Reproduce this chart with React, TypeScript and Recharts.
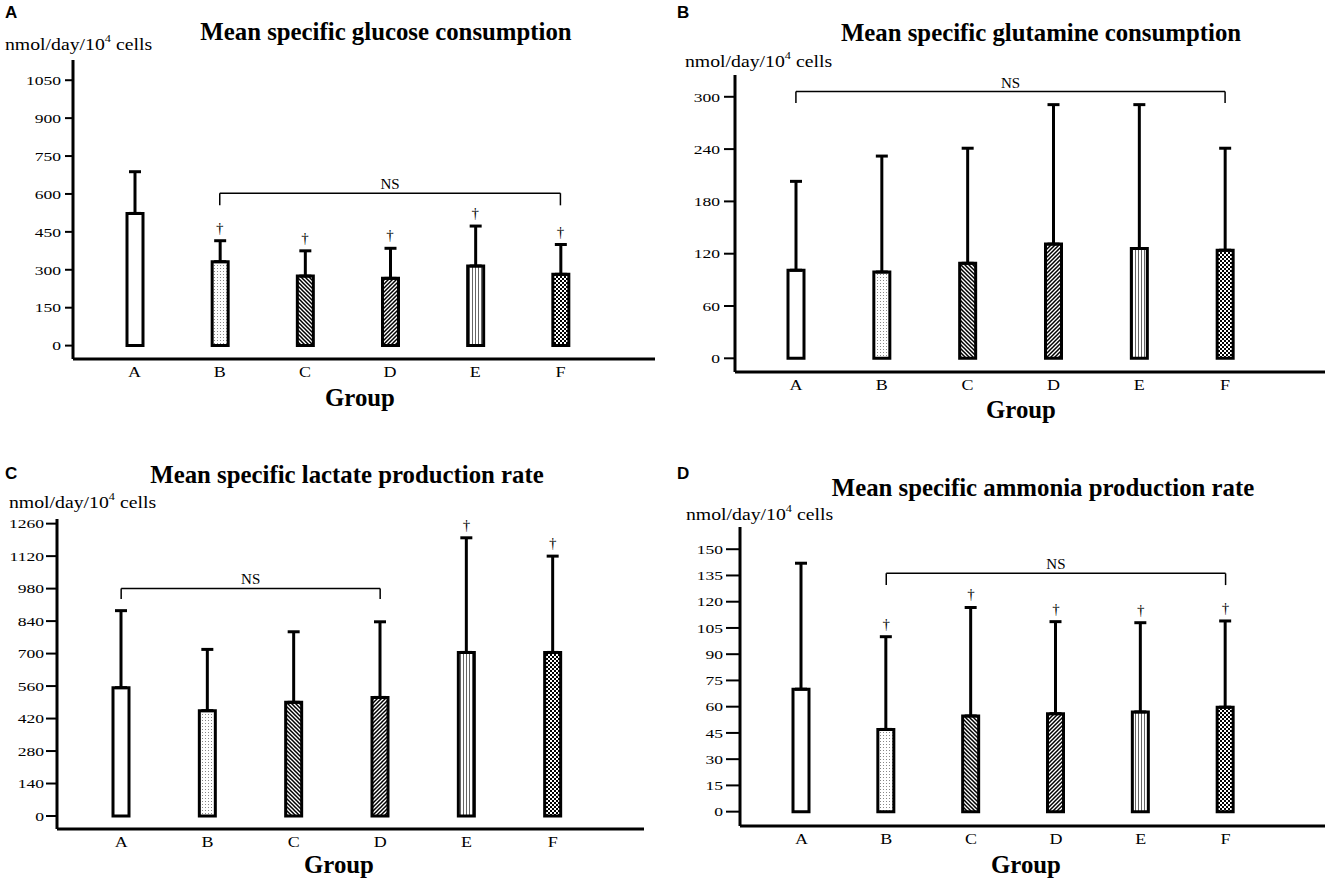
import React from 'react';
import { ComposedChart, Bar, Cell, XAxis, YAxis, ErrorBar, Line, ReferenceLine } from 'recharts';

const SERIF = "'Liberation Serif', 'Times New Roman', serif";
const SANS = "'Liberation Sans', Arial, sans-serif";

// ---- data ----
const groups = ['A', 'B', 'C', 'D', 'E', 'F'];
const fills = ['white', 'dots', 'back', 'fwd', 'vert', 'check'];

const glucoseMean = [523, 332, 275, 266, 315, 282];
const glucoseSd = [165, 83, 100, 119, 158, 118];
const glucoseMark = ['', '†', '†', '†', '†', '†'];
const glucoseTicks = [0, 150, 300, 450, 600, 750, 900, 1050];

const glutamineMean = [101, 99, 109, 131, 126, 124];
const glutamineSd = [102, 133, 132, 160, 165, 117];
const glutamineMark = ['', '', '', '', '', ''];
const glutamineTicks = [0, 60, 120, 180, 240, 300];

const lactateMean = [553, 454, 490, 511, 705, 705];
const lactateSd = [332, 264, 304, 326, 494, 415];
const lactateMark = ['', '', '', '', '†', '†'];
const lactateTicks = [0, 140, 280, 420, 560, 700, 840, 980, 1120, 1260];

const ammoniaMean = [70, 47, 54.7, 56, 57, 59.7];
const ammoniaSd = [72, 53, 62, 52.6, 51, 49.3];
const ammoniaMark = ['', '†', '†', '†', '†', '†'];
const ammoniaTicks = [0, 15, 30, 45, 60, 75, 90, 105, 120, 135, 150];

const buildRows = (mean: number[], sd: number[], mark: string[]) =>
  groups.map((g, i) => ({
    group: g,
    mean: mean[i],
    err: [0, sd[i]],
    top: mean[i] + sd[i],
    mark: mark[i],
  }));

type Panel = {
  id: string;
  letter: string;
  title: string;
  rows: any[];
  ticks: number[];
  domain: [number, number];
  left: number;
  top: number;
  width: number;
  height: number;
  mt: number;
  mr: number;
  yw: number;
  xh: number;
  padL: number;
  padR: number;
  ts: number;
  tm: number;
  bracket: { from: string; to: string; y: number; drop: number };
  letterPos: [number, number];
  titlePos: [number, number];
  unitPos: [number, number];
  groupPos: [number, number];
};

const panels: Panel[] = [
  {
    id: 'pa', letter: 'A', title: 'Mean specific glucose consumption',
    rows: buildRows(glucoseMean, glucoseSd, glucoseMark), ticks: glucoseTicks,
    domain: [-53, 1130], left: 0, top: 0, width: 660, height: 440,
    mt: 60, mr: 5, yw: 73, xh: 81, padL: 19, padR: 52, ts: 8, tm: 4,
    bracket: { from: 'B', to: 'F', y: 603, drop: 555 },
    letterPos: [5, 12], titlePos: [386, 32], unitPos: [5, 45], groupPos: [360, 398],
  },
  {
    id: 'pb', letter: 'B', title: 'Mean specific glutamine consumption',
    rows: buildRows(glutamineMean, glutamineSd, glutamineMark), ticks: glutamineTicks,
    domain: [-15.7, 325], left: 660, top: 0, width: 665, height: 440,
    mt: 75, mr: 0, yw: 75, xh: 68, padL: 18, padR: 57, ts: 11, tm: 4,
    bracket: { from: 'A', to: 'F', y: 306, drop: 293 },
    letterPos: [677, 12], titlePos: [1041, 33], unitPos: [685, 62], groupPos: [1021, 410],
  },
  {
    id: 'pc', letter: 'C', title: 'Mean specific lactate production rate',
    rows: buildRows(lactateMean, lactateSd, lactateMark), ticks: lactateTicks,
    domain: [-56, 1280], left: 0, top: 440, width: 660, height: 446,
    mt: 79, mr: 16, yw: 57, xh: 57, padL: 21, padR: 48, ts: 11, tm: 2,
    bracket: { from: 'A', to: 'D', y: 981, drop: 935 },
    letterPos: [5, 473], titlePos: [347, 475], unitPos: [9, 503], groupPos: [339, 865],
  },
  {
    id: 'pd', letter: 'D', title: 'Mean specific ammonia production rate',
    rows: buildRows(ammoniaMean, ammoniaSd, ammoniaMark), ticks: ammoniaTicks,
    domain: [-8.2, 162.7], left: 660, top: 440, width: 665, height: 446,
    mt: 87, mr: 0, yw: 80, xh: 60, padL: 19, padR: 57, ts: 14, tm: 3,
    bracket: { from: 'B', to: 'F', y: 136.2, drop: 129.5 },
    letterPos: [677, 473], titlePos: [1043, 488], unitPos: [686, 515], groupPos: [1026, 865],
  },
];

const Patterns = ({ id }: { id: string }) => (
  <defs>
    <pattern id={`${id}-dots`} width={3} height={3} patternUnits="userSpaceOnUse">
      <rect width={3} height={3} fill="#fff" />
      <rect x={1} y={1} width={1} height={1} fill="#888" />
    </pattern>
    <pattern id={`${id}-back`} width={4} height={4} patternUnits="userSpaceOnUse">
      <rect width={4} height={4} fill="#fff" />
      <path d="M-1,-1 L5,5 M-1,3 L1,5 M3,-1 L5,1" stroke="#000" strokeWidth={1.5} />
    </pattern>
    <pattern id={`${id}-fwd`} width={4} height={4} patternUnits="userSpaceOnUse">
      <rect width={4} height={4} fill="#fff" />
      <path d="M-1,5 L5,-1 M-1,1 L1,-1 M3,5 L5,3" stroke="#000" strokeWidth={1.5} />
    </pattern>
    <pattern id={`${id}-vert`} width={3} height={3} patternUnits="userSpaceOnUse">
      <rect width={3} height={3} fill="#fff" />
      <rect x={1} y={0} width={1} height={3} fill="#666" />
    </pattern>
    <pattern id={`${id}-check`} width={4} height={4} patternUnits="userSpaceOnUse">
      <rect width={4} height={4} fill="#fff" />
      <rect x={0} y={0} width={2} height={2} fill="#000" />
      <rect x={2} y={2} width={2} height={2} fill="#000" />
    </pattern>
  </defs>
);

const renderDagger = (props: any) => {
  const { cx, cy, payload, index } = props;
  if (!payload || !payload.mark) return <g key={`dg-${index}`} />;
  return (
    <text
      key={`dg-${index}`}
      x={cx}
      y={cy - 13}
      textAnchor="middle"
      dominantBaseline="central"
      fontSize={15}
      fontFamily={SERIF}
      fill="#000"
    >
      {payload.mark}
    </text>
  );
};

// wide-set serif tick labels (the reference text is horizontally stretched)
const YTick = (props: any) => {
  const { x, y, payload } = props;
  return (
    <text
      transform={`translate(${x},${y}) scale(1.3,1)`}
      x={0}
      y={0}
      textAnchor="end"
      dominantBaseline="central"
      fontSize={13.5}
      fontFamily={SERIF}
      fill="#000"
    >
      {payload.value}
    </text>
  );
};

const XTick = (props: any) => {
  const { x, y, payload } = props;
  return (
    <text
      transform={`translate(${x},${y}) scale(1.2,1)`}
      x={0}
      y={0}
      dy="0.71em"
      textAnchor="middle"
      fontSize={15}
      fontFamily={SERIF}
      fill="#000"
    >
      {payload.value}
    </text>
  );
};

const PanelChart = ({ p }: { p: Panel }) => (
  <div style={{ position: 'absolute', left: p.left, top: p.top }}>
    <ComposedChart
      width={p.width}
      height={p.height}
      data={p.rows}
      margin={{ top: p.mt, right: p.mr, bottom: 0, left: 0 }}
    >
      <Patterns id={p.id} />
      <XAxis
        dataKey="group"
        type="category"
        height={p.xh}
        padding={{ left: p.padL, right: p.padR }}
        tickLine={false}
        tickSize={0}
        tickMargin={7}
        interval={0}
        axisLine={{ stroke: '#000', strokeWidth: 3 }}
        tick={<XTick />}
      />
      <YAxis
        type="number"
        width={p.yw}
        domain={p.domain}
        ticks={p.ticks}
        interval={0}
        allowDataOverflow
        tickSize={p.ts}
        tickMargin={p.tm}
        axisLine={{ stroke: '#000', strokeWidth: 3 }}
        tickLine={{ stroke: '#000', strokeWidth: 2 }}
        tick={<YTick />}
      />
      <Bar dataKey="mean" barSize={16} stroke="#000" strokeWidth={3} isAnimationActive={false}>
        {p.rows.map((r, i) => (
          <Cell key={r.group} fill={fills[i] === 'white' ? '#fff' : `url(#${p.id}-${fills[i]})`} />
        ))}
        <ErrorBar dataKey="err" width={6} stroke="#000" strokeWidth={3} direction="y" isAnimationActive={false} />
      </Bar>
      <Line
        dataKey="top"
        stroke="none"
        dot={renderDagger}
        activeDot={false}
        legendType="none"
        isAnimationActive={false}
      />
      <ReferenceLine
        segment={[{ x: p.bracket.from, y: p.bracket.y }, { x: p.bracket.to, y: p.bracket.y }]}
        stroke="#000"
        strokeWidth={1.5}
        label={{ value: 'NS', position: 'top', offset: 4, fill: '#000', fontSize: 15, fontFamily: SERIF }}
      />
      <ReferenceLine
        segment={[{ x: p.bracket.from, y: p.bracket.y }, { x: p.bracket.from, y: p.bracket.drop }]}
        stroke="#000"
        strokeWidth={1.5}
      />
      <ReferenceLine
        segment={[{ x: p.bracket.to, y: p.bracket.y }, { x: p.bracket.to, y: p.bracket.drop }]}
        stroke="#000"
        strokeWidth={1.5}
      />
    </ComposedChart>
  </div>
);

const PanelText = ({ p }: { p: Panel }) => (
  <>
    <div style={{ position: 'absolute', left: p.letterPos[0], top: p.letterPos[1], transform: 'translateY(-50%)', font: `bold 17px ${SANS}`, lineHeight: 1 }}>
      {p.letter}
    </div>
    <div style={{ position: 'absolute', left: p.titlePos[0], top: p.titlePos[1], transform: 'translate(-50%, -50%)', font: `bold 24.8px ${SERIF}`, lineHeight: 1, whiteSpace: 'nowrap' }}>
      {p.title}
    </div>
    <div style={{ position: 'absolute', left: p.unitPos[0], top: p.unitPos[1], transform: 'translateY(-50%) scaleX(1.22)', transformOrigin: 'left center', font: `16.2px ${SERIF}`, lineHeight: 1, whiteSpace: 'nowrap' }}>
      nmol/day/10<span style={{ fontSize: '0.62em', position: 'relative', top: '-0.75em' }}>4</span> cells
    </div>
    <div style={{ position: 'absolute', left: p.groupPos[0], top: p.groupPos[1], transform: 'translate(-50%, -50%)', font: `bold 24.8px ${SERIF}`, lineHeight: 1, whiteSpace: 'nowrap' }}>
      Group
    </div>
  </>
);

export default function App() {
  return (
    <div style={{ position: 'absolute', left: 0, top: 0, width: 1325, height: 886, background: '#fff', overflow: 'hidden', fontFamily: SERIF, color: '#000' }}>
      {panels.map((p) => (
        <PanelChart key={p.id} p={p} />
      ))}
      {panels.map((p) => (
        <PanelText key={`t-${p.id}`} p={p} />
      ))}
    </div>
  );
}
